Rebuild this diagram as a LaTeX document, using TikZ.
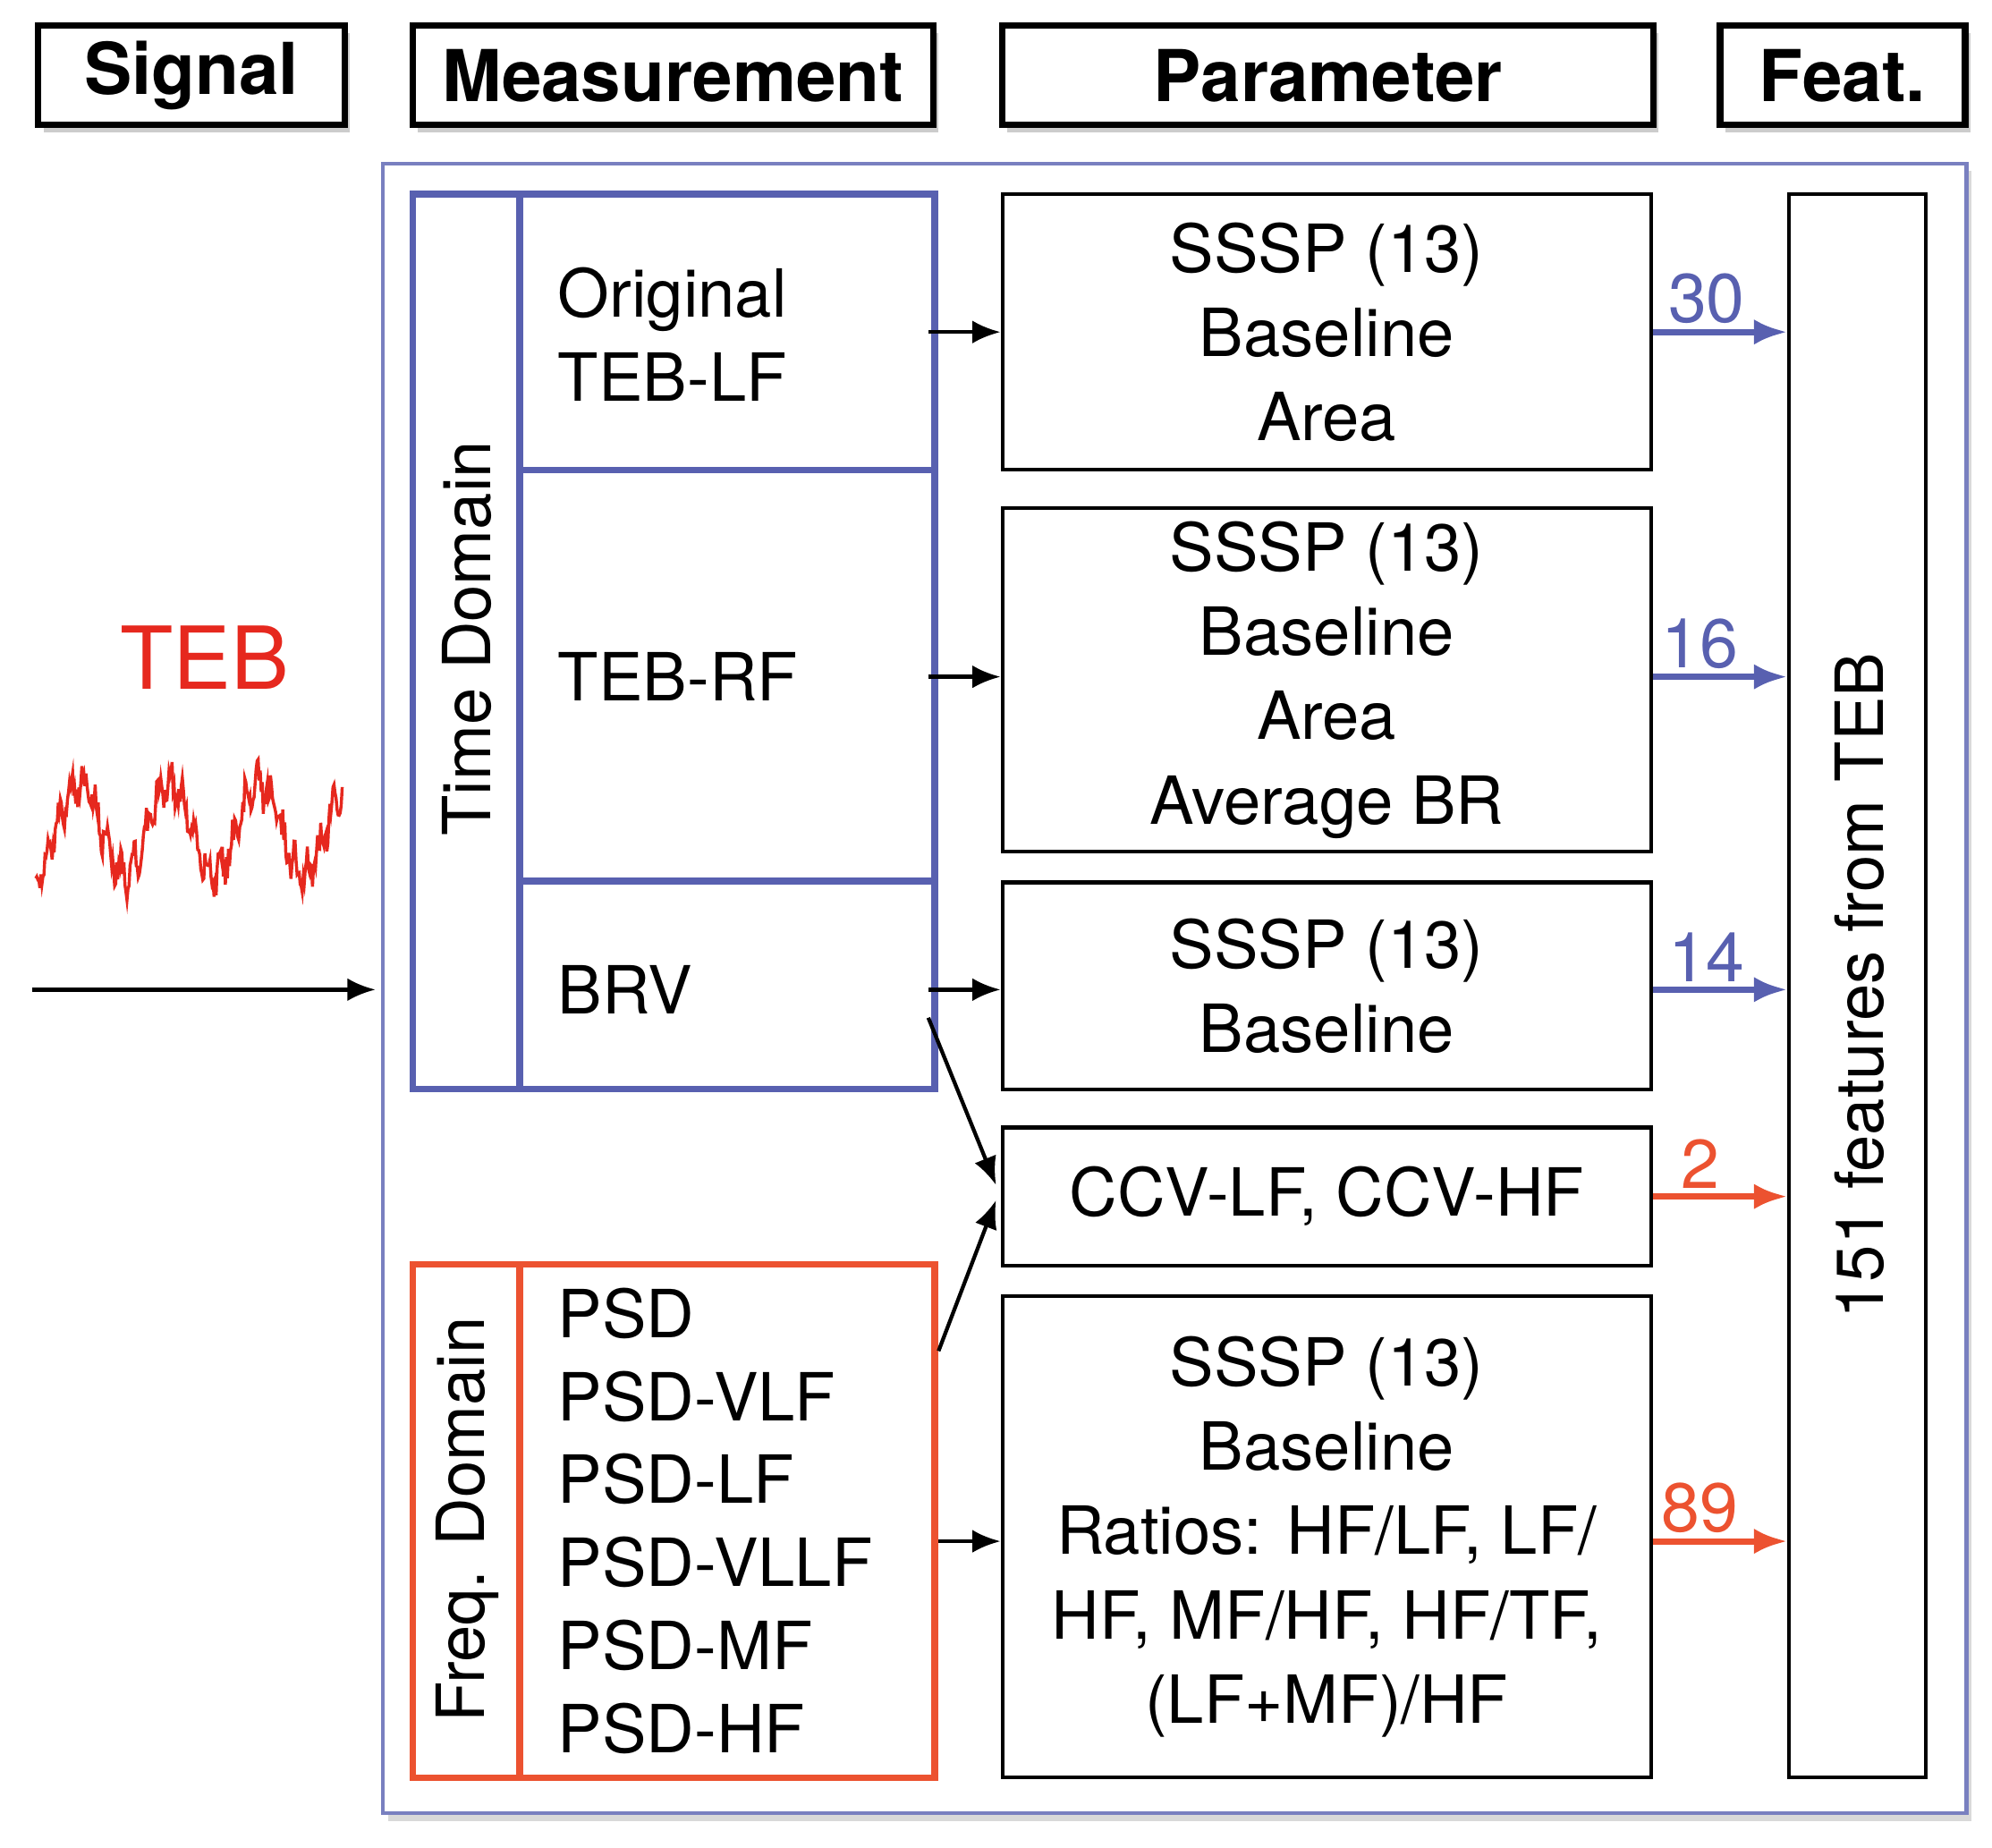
\documentclass[tikz,border=0pt]{standalone}
\usepackage{fontspec}
\setmainfont{TeX Gyre Heros}
\usetikzlibrary{shadows,arrows.meta}
\definecolor{bl}{RGB}{88,96,176}
\definecolor{og}{RGB}{236,82,48}
\definecolor{rd}{RGB}{230,40,30}
\begin{document}
\begin{tikzpicture}[x=0.5pt,y=-0.5pt,
 hdr/.style={draw,line width=2.5pt,fill=white,drop shadow={shadow xshift=2pt,shadow yshift=-3pt,opacity=0.4},font=\fontsize{28}{30}\selectfont\bfseries},
 box/.style={draw,line width=1.5pt},
 txt/.style={font=\fontsize{26}{33}\selectfont,align=center},
 lt/.style={font=\fontsize{26}{33}\selectfont,align=left,anchor=west},
 ar/.style={-{Latex[length=11pt,width=9pt]},line width=1.5pt},
 car/.style={-{Latex[length=13pt,width=10pt]},line width=2.5pt},
 num/.style={font=\fontsize{27}{28}\selectfont,inner sep=2pt}]
\useasboundingbox (0,0) rectangle (1560,1447);
% headers
\node[hdr,minimum width=120pt,minimum height=39pt] (h1) at (150,59) {Signal};
\node[hdr,minimum width=204pt,minimum height=39pt] (h2) at (527,59) {Measurement};
\node[hdr,minimum width=255pt,minimum height=39pt] (h3) at (1040,59) {Parameter};
\node[hdr,minimum width=96pt,minimum height=39pt] (h4) at (1443,59) {Feat.};
% outer
\draw[bl!80,line width=1.5pt,drop shadow={shadow xshift=2pt,shadow yshift=-3pt,opacity=0.3},fill=white] (300,128) rectangle (1540,1420);
% time domain
\draw[bl,line width=2.5pt] (323,152) rectangle (732,853);
\draw[bl,line width=2.5pt] (407,152) -- (407,853) (407,368) -- (732,368) (407,690) -- (732,690);
\node[txt,rotate=90] (td) at (366,500) {Time Domain};
\node[lt] (m1) at (430,262) {Original\\TEB-LF};
\node[lt] (m2) at (430,530) {TEB-RF};
\node[lt] (m3) at (430,775) {BRV};
% freq domain
\draw[og,line width=2.5pt] (323,990) rectangle (732,1392);
\draw[og,line width=2.5pt] (407,990) -- (407,1392);
\node[txt,rotate=90] (fd) at (366,1190) {Freq. Domain};
\node[lt,font=\fontsize{26}{32.5}\selectfont] (m4) at (430,1191) {PSD\\PSD-VLF\\PSD-LF\\PSD-VLLF\\PSD-MF\\PSD-HF};
% parameter boxes
\node[box,txt,minimum width=254pt,minimum height=108pt] (p1) at (1039,260) {SSSP (13)\\Baseline\\Area};
\node[box,txt,minimum width=254pt,minimum height=134.5pt] (p2) at (1039,532.5) {SSSP (13)\\Baseline\\Area\\Average BR};
\node[box,txt,minimum width=254pt,minimum height=81pt] (p3) at (1039,772) {SSSP (13)\\Baseline};
\node[box,txt,minimum width=254pt,minimum height=54pt] (p4) at (1039,937) {CCV-LF, CCV-HF};
\node[box,txt,minimum width=254pt,minimum height=188.5pt] (p5) at (1039,1203.5) {SSSP (13)\\Baseline\\Ratios: HF/LF, LF/\\HF, MF/HF, HF/TF,\\(LF+MF)/HF};
\node[box,minimum width=53.5pt,minimum height=620pt] (f) at (1454.5,772) {};
\node[txt,rotate=90] (ft) at (1456,772) {151 features from TEB};
% arrows
\coordinate (a1) at (727,260); \coordinate (a2) at (727,530); \coordinate (a3) at (727,775); \coordinate (a4) at (735,1207);
\draw[ar] (a1) -- (p1.west|-a1);
\draw[ar] (a2) -- (p2.west|-a2);
\draw[ar] (a3) -- (p3.west|-a3);
\draw[ar] (a4) -- (p5.west|-a4);
\coordinate (d1) at (727,797); \coordinate (d2) at (735,1058);
\draw[ar] (d1) -- (780,928);
\draw[ar] (d2) -- (780,940);
\coordinate (in0) at (25,775); \coordinate (in1) at (294,775);
\draw[ar] (in0) -- (in1);
% colored
\draw[car,bl] (p1.east|-0,260) -- (f.west|-0,260) node[num,pos=0.4,above,bl] {30};
\draw[car,bl] (p2.east|-0,530) -- (f.west|-0,530) node[num,pos=0.35,above,bl] {16};
\draw[car,bl] (p3.east|-0,775) -- (f.west|-0,775) node[num,pos=0.4,above,bl] {14};
\draw[car,og] (p4.east|-0,937) -- (f.west|-0,937) node[num,pos=0.35,above,og] {2};
\draw[car,og] (p5.east|-0,1207) -- (f.west|-0,1207) node[num,pos=0.35,above,og] {89};
% signal
\node[font=\fontsize{34}{36}\selectfont,text=rd] (teb) at (160,515) {TEB};
\pgfmathsetseed{11}
\draw[rd,line width=1.2pt] plot[domain=28:268,samples=300] (\x,{650-35*sin((\x-45)*5.142857)+22*(rnd-0.5)+10*sin(\x*37)});
\end{tikzpicture}
\end{document}
